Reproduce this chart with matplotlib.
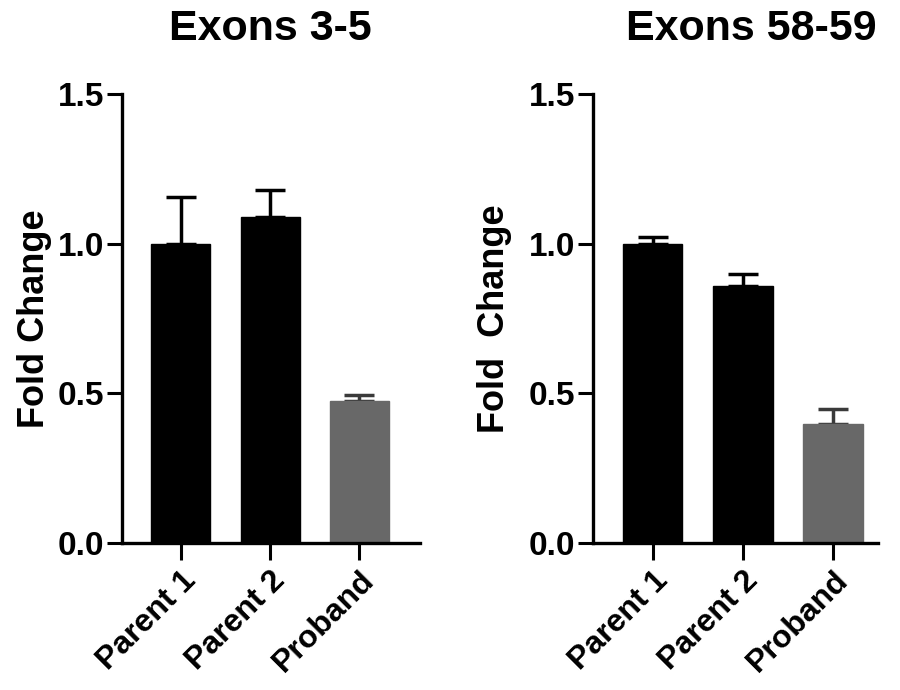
import matplotlib.pyplot as plt
import matplotlib.font_manager as fm

names = ["Parent 1", "Parent 2", "Proband"]
colors = ["black", "black", "#686868"]

# Exons 3-5
mean_a = [1.00, 1.09, 0.475]
err_a = [0.155, 0.09, 0.018]

# Exons 58-59
mean_b = [1.00, 0.857, 0.398]
err_b = [0.022, 0.043, 0.05]

installed = {f.name for f in fm.fontManager.ttflist}
title_font = "Liberation Sans Narrow" if "Liberation Sans Narrow" in installed else "Liberation Sans"
plt.rcParams['font.family'] = ['Liberation Sans', 'DejaVu Sans']
plt.rcParams['font.weight'] = 'bold'

fig = plt.figure(figsize=(9, 6.9), dpi=100)
ax1 = fig.add_axes([0.1356, 0.213, 0.331, 0.651])
ax2 = fig.add_axes([0.659, 0.213, 0.317, 0.651])


def draw(ax, means, errs, title, ylabel, xmax, title_x, lpad):
    x = range(len(names))
    ax.bar(x, means, width=0.66, color=colors, edgecolor=colors, linewidth=1, zorder=2)
    for i in x:
        ecol = "#3a3a3a" if i == 2 else "black"
        ax.errorbar(i, means[i], yerr=[[0], [errs[i]]], fmt='none', ecolor=ecol,
                    elinewidth=2.5, capsize=11, capthick=2.5, zorder=1)
    ax.set_xlim(-0.66, xmax)
    ax.set_ylim(0, 1.5)
    ax.set_yticks([0, 0.5, 1.0, 1.5])
    ax.set_yticklabels(["0.0", "0.5", "1.0", "1.5"], fontsize=24, fontweight='bold')
    ax.set_xticks(list(x))
    ax.set_xticklabels(names, rotation=45, ha='right', rotation_mode='anchor',
                       fontsize=23, fontweight='bold')
    ax.tick_params(axis='y', length=11, width=2.2, pad=2)
    ax.tick_params(axis='x', length=12, width=2.2, pad=4)
    for s in ['top', 'right']:
        ax.spines[s].set_visible(False)
    for s in ['left', 'bottom']:
        ax.spines[s].set_linewidth(2.4)
    ax.set_ylabel(ylabel, fontsize=26, fontweight='bold', labelpad=lpad)
    fig.text(title_x, 0.958, title, ha='center', va='center', fontsize=31,
             fontweight='bold', family=[title_font, 'DejaVu Sans'])


draw(ax1, mean_a, err_a, "Exons 3-5", "Fold Change", 2.68, 0.30, 4)
draw(ax2, mean_b, err_b, "Exons 58-59", "Fold  Change", 2.5, 0.835, 12)

fig.savefig("out.png", dpi=100)
